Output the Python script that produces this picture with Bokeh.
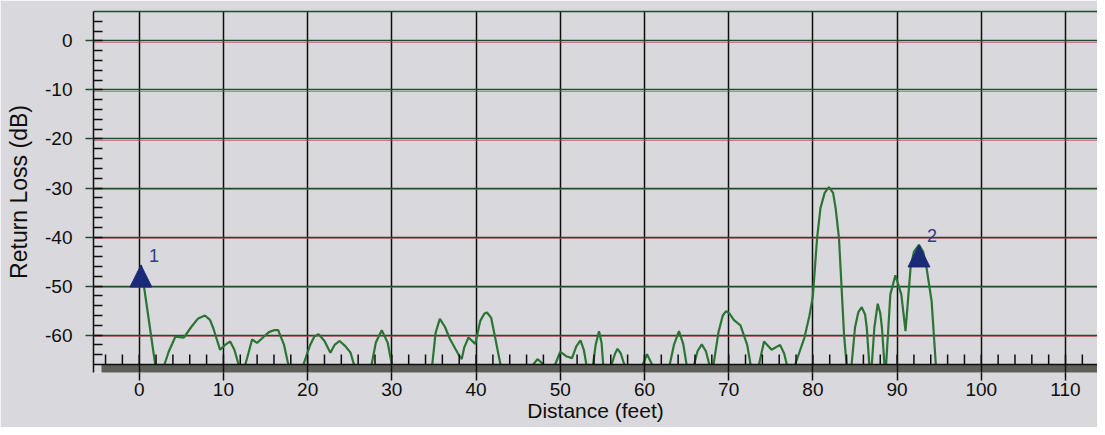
import numpy as np
from bokeh.plotting import figure
from bokeh.models import Range1d, FixedTicker, LinearAxis
from bokeh.embed import file_html
from bokeh.resources import INLINE
from bokeh.core.properties import value

nan = float("nan")

# ---- data (nan = gap, -66 = below the display floor) ----
distance_ft = [
    0.2, 1.9, nan,
    3.0, 3.5, 4.3, 5.3, 6.2, 7.0, 7.8, 8.4, 8.8, 9.6, 10.2, 10.8, 11.3, 11.8, nan,
    12.6, 13.0, 13.4, 14.0, 14.7, 15.4, 16.0, 16.5, 17.2, 17.7, nan,
    19.5, 20.3, 20.8, 21.3, 22.0, 22.7, 23.2, 23.8, 24.5, 25.1, 25.5, nan,
    27.6, 28.1, 28.8, 29.5, 30.0, nan,
    34.8, 35.2, 35.7, 36.3, 36.9, 37.9, 38.3, 38.6, 39.1, 39.9, 40.5, 41.0, 41.3, 41.8, 42.3, 42.9, nan,
    46.8, 47.3, 48.0, nan,
    49.4, 50.0, 50.7, 51.4, 51.9, 52.4, 52.8, 53.1, nan,
    53.9, 54.2, 54.6, 54.9, 55.1, nan,
    56.1, 56.5, 56.8, 57.2, 57.6, nan,
    59.8, 60.3, 60.9, nan,
    63.0, 63.5, 64.1, 64.6, 65.0, nan,
    65.9, 66.3, 66.8, 67.3, 67.7, nan,
    68.2, 68.8, 69.3, 69.7, 70.1, 70.6, 71.4, 72.2, 72.6, nan,
    73.6, 74.2, 75.1, 76.1, 76.6, 76.9, nan,
    77.9, 78.4, 79.0, 79.6, 80.0, 80.5, 80.9, 81.4, 81.9, 82.4, 82.7, 83.1, 83.7, 84.0, nan,
    84.6, 85.0, 85.4, 85.8, 86.2, 86.4, 86.7, nan,
    87.0, 87.3, 87.7, 88.0, 88.2, 88.5, nan,
    88.7, 89.2, 89.8, 90.5, 91.0, 91.6, 92.0, 92.6, 93.1, 93.5, 94.1, 94.6,
]
return_loss_db = [
    -45.7, -66, nan,
    -66, -63.4, -60.3, -60.5, -58.3, -56.6, -56.0, -56.9, -58.6, -63.0, -62.0, -61.3, -63.0, -66, nan,
    -66, -63.5, -60.9, -61.6, -60.5, -59.4, -59.0, -59.0, -62.0, -66, nan,
    -66, -62.0, -60.3, -59.8, -61.2, -63.6, -62.0, -61.2, -62.3, -63.6, -66, nan,
    -66, -61.5, -59.0, -61.5, -66, nan,
    -66, -59.5, -56.7, -58.3, -60.8, -63.9, -64.9, -62.5, -60.5, -61.8, -57.1, -55.6, -55.4, -56.5, -60.8, -66, nan,
    -66, -64.9, -66, nan,
    -66, -63.4, -64.3, -64.7, -62.3, -61.1, -63.0, -66, nan,
    -66, -62.0, -59.2, -61.5, -66, nan,
    -66, -63.8, -62.8, -63.8, -66, nan,
    -66, -63.9, -66, nan,
    -66, -62.0, -59.2, -61.8, -66, nan,
    -66, -63.3, -61.9, -63.3, -66, nan,
    -66, -59.3, -56.0, -55.1, -55.6, -56.9, -58.0, -62.0, -66, nan,
    -66, -61.3, -63.0, -62.0, -63.8, -66, nan,
    -66, -63.5, -60.5, -56.0, -52.0, -40.2, -34.1, -31.0, -29.8, -31.0, -34.1, -40.2, -59.9, -66, nan,
    -66, -58.5, -55.3, -54.3, -55.8, -58.5, -66, nan,
    -66, -58.5, -53.6, -55.5, -58.5, -66, nan,
    -66, -51.7, -47.8, -51.7, -59.2, -46.3, -43.0, -41.6, -43.0, -46.3, -53.1, -66,
]
marker_ft = [0.2, 92.6]
marker_db = [-45.7, -41.6]
marker_labels = ["1", "2"]

x_major_ticks = [0, 10, 20, 30, 40, 50, 60, 70, 80, 90, 100, 110]
x_tick_labels = ["0", "10", "20", "30", "40", "50", "60", "70", "80", "90", "100", "110"]
x_minor_ticks = list(range(-4, 114, 2))
y_major_ticks = [0, -10, -20, -30, -40, -50, -60]
y_tick_labels = ["0", "-10", "-20", "-30", "-40", "-50", "-60"]
y_minor_ticks = list(range(-64, 6, 2))

# ---- styling ----
BG = "#d9d8dc"
GRID_GREEN = "#1f4d30"
INK = "#0e0e0e"
CURVE = "#2c7434"
MARK = "#1b2a78"
SHADOW = "#5f5f59"
FONT = "Liberation Sans"

X_START, X_END = -5.43, 113.8
Y_FLOOR, Y_TOP = -66, 6          # axis line sits at the floor
SHADOW_DB = 1.63                 # ~8 px shadow band below the axis line
SHADOW_SHIFT_FT = 0.95           # ~8 px shift of the shadow to the right
TICK_DB = 2.05                   # ~10 px inward minor tick length

p = figure(width=1097, height=427, output_backend="svg", toolbar_location=None,
           x_range=Range1d(X_START, X_END), y_range=Range1d(Y_FLOOR - SHADOW_DB, Y_TOP),
           background_fill_color=BG, border_fill_color=BG,
           min_border_left=93, min_border_right=0, min_border_top=11, min_border_bottom=55)
p.outline_line_color = None

# shadow band below the x axis line (drawn under the grid)
p.quad(left=[X_START + SHADOW_SHIFT_FT], right=[X_END + 5], top=[Y_FLOOR],
       bottom=[Y_FLOOR - SHADOW_DB - 1], fill_color=SHADOW, line_color=None, level="image")

xa = p.xaxis[0]
xa.ticker = xt = FixedTicker(ticks=x_major_ticks, minor_ticks=[])
xa.major_label_overrides = dict(zip(x_major_ticks, x_tick_labels))
xa.axis_line_color = None
xa.major_tick_out = 8
xa.major_tick_in = 0
xa.major_tick_line_color = INK
xa.major_tick_line_width = 1.5
xa.minor_tick_in = 0
xa.minor_tick_out = 0
xa.major_label_standoff = 2
xa.major_label_text_font = FONT
xa.major_label_text_font_size = "19px"
xa.major_label_text_color = INK
xa.axis_label = "Distance (feet)"
xa.axis_label_text_font = FONT
xa.axis_label_text_font_size = "21px"
xa.axis_label_text_font_style = "normal"
xa.axis_label_text_color = INK
xa.axis_label_standoff = 0

yt = FixedTicker(ticks=y_major_ticks, minor_ticks=y_minor_ticks)
ya = p.yaxis[0]
ya.ticker = yt
ya.major_label_overrides = dict(zip(y_major_ticks, y_tick_labels))
ya.axis_line_color = INK
ya.axis_line_width = 1.5
ya.major_tick_out = 8
ya.major_tick_in = 0
ya.major_tick_line_color = GRID_GREEN
ya.major_tick_line_width = 1.5
ya.minor_tick_in = 9
ya.minor_tick_out = 0
ya.minor_tick_line_color = INK
ya.minor_tick_line_width = 1.5
ya.major_label_standoff = 13
ya.major_label_text_font = FONT
ya.major_label_text_font_size = "19px"
ya.major_label_text_color = INK
ya.axis_label = "Return Loss (dB)"
ya.axis_label_text_font = FONT
ya.axis_label_text_font_size = "23px"
ya.axis_label_text_font_style = "normal"
ya.axis_label_text_color = INK
ya.axis_label_standoff = 10

# top edge of the frame
top_axis = LinearAxis(ticker=FixedTicker(ticks=[]), axis_line_color=GRID_GREEN,
                      axis_line_width=1.5, major_tick_out=0, major_tick_in=0,
                      minor_tick_out=0, minor_tick_in=0,
                      major_label_text_font_size="0px", major_label_standoff=0)
p.add_layout(top_axis, "above")

p.xgrid.ticker = xt
p.xgrid.grid_line_color = INK
p.xgrid.grid_line_width = 1.5
p.ygrid.ticker = yt
p.ygrid.grid_line_color = GRID_GREEN
p.ygrid.grid_line_width = 1.5

# faint red fringe just below each horizontal grid line (scan look)
p.hspan(y=[t - 0.35 for t in y_major_ticks], line_color="#b8434f", line_width=1, line_alpha=0.6)

p.line(np.array(distance_ft), np.array(return_loss_db), line_color=CURVE, line_width=2.2)

# x axis line and inward minor ticks
p.hspan(y=[Y_FLOOR], line_color=INK, line_width=1.5)
p.segment(x0=x_minor_ticks, y0=[Y_FLOOR] * len(x_minor_ticks),
          x1=x_minor_ticks, y1=[Y_FLOOR + TICK_DB] * len(x_minor_ticks),
          line_color=INK, line_width=1.5)

tri_xs = [[x - 1.3, x + 1.3, x] for x in marker_ft]
tri_ys = [[y - 4.5, y - 4.5, y] for y in marker_db]
p.patches(tri_xs, tri_ys, fill_color=MARK, line_color=MARK, line_width=1)

p.text(x=marker_ft, y=marker_db, text=marker_labels, x_offset=13, y_offset=-9,
       text_font=value(FONT), text_font_size="18px", text_color="#2e3b8e",
       text_align="center", text_baseline="middle")

open("out.html", "w").write(file_html(p, INLINE))
